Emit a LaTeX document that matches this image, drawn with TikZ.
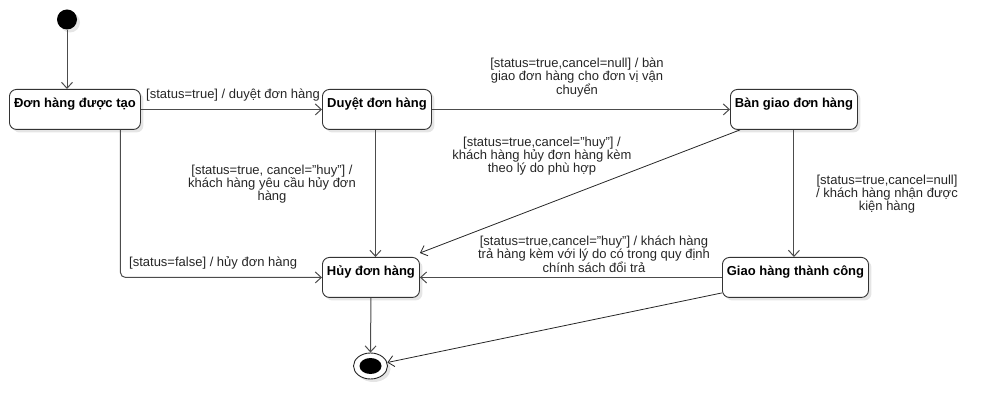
\documentclass[tikz,border=0pt]{standalone}
\usepackage{fontspec}
\setmainfont{Liberation Sans}
\usetikzlibrary{arrows.meta,shapes.geometric,calc,shadows}
\begin{document}
\begin{tikzpicture}[x=1pt,y=-1pt,
  shad/.style={drop shadow={shadow xshift=3pt, shadow yshift=-3pt, fill=black!10, opacity=1}},
  statebox/.style={draw=black!80, line width=0.9pt, rounded corners=7pt, fill=white, shad,
    font=\fontsize{13}{15}\selectfont\bfseries, inner xsep=0pt, inner ysep=0pt,
    text height=18pt, text depth=22pt, anchor=north west},
  conn/.style={draw=black!70, line width=1pt, -{Straight Barb[length=6pt,width=11pt]}},
  thinconn/.style={draw=black!85, line width=0.8pt, -{Straight Barb[length=6pt,width=11pt]}},
  lbl/.style={font=\fontsize{13}{13.3}\selectfont, text=black!85, inner sep=0pt, align=center}
]
\useasboundingbox (0,0) rectangle (998,419);

% states
\node[circle, fill=black, minimum size=20pt, inner sep=0pt, shad] (init) at (67,19.5) {};
\node[statebox, minimum width=131pt] (a) at (9,89) {Đơn hàng được tạo};
\node[statebox, minimum width=109pt] (b) at (322,89) {Duyệt đơn hàng};
\node[statebox, minimum width=127pt] (c) at (730,89) {Bàn giao đơn hàng};
\node[statebox, minimum width=97pt] (d) at (322,257) {Hủy đơn hàng};
\node[statebox, minimum width=146pt] (e) at (722,257) {Giao hàng thành công};
\node[ellipse, draw=black!85, line width=0.9pt, fill=white, minimum width=34pt, minimum height=26pt, inner sep=0pt, shad] (f) at (370.5,366) {};
\node[ellipse, fill=black, minimum width=22pt, minimum height=16pt, inner sep=0pt] (fin) at (f.center) {};

% transitions
\draw[conn] (init.south) -- (a.north -| init.south);
\draw[conn] (a.east) -- (b.west);
\draw[conn] (b.east) -- (c.west);
\draw[conn] (c.south) -- (e.north -| c.south);
\draw[conn] ([xshift=-1.5pt]b.south) -- ([xshift=4.5pt]d.north);
\draw[thinconn] ([xshift=10pt]c.south west) -- ([yshift=4pt]d.north east);
\draw[conn] (e.west) -- (d.east);
\draw[conn, rounded corners=5pt] ([xshift=45.5pt]a.south) |- (d.west);
\draw[conn] (d.south) -- (f.north);
\draw[thinconn] ([yshift=5pt]e.south west) -- (f);

% labels
\node[lbl, anchor=base west] (l1) at (146,98.5) {[status=true] / duyệt đơn hàng};
\node[lbl] (l2) at (577,77.5) {[status=true,cancel=null] / bàn\\giao đơn hàng cho đơn vị vận\\chuyển};
\node[lbl] (l3) at (887,194) {[status=true,cancel=null]\\/ khách hàng nhận được\\kiện hàng};
\node[lbl] (l4) at (272,184) {[status=true, cancel="huy"] /\\khách hàng yêu cầu hủy đơn\\hàng};
\node[lbl] (l5) at (542,156) {[status=true,cancel="huy"] /\\khách hàng hủy đơn hàng kèm\\theo lý do phù hợp};
\node[lbl] (l6) at (594,254) {[status=true,cancel="huy"] / khách hàng\\trả hàng kèm với lý do có trong quy định\\chính sách đổi trả};
\node[lbl, anchor=base west] (l7) at (129,267) {[status=false] / hủy đơn hàng};
\end{tikzpicture}
\end{document}
